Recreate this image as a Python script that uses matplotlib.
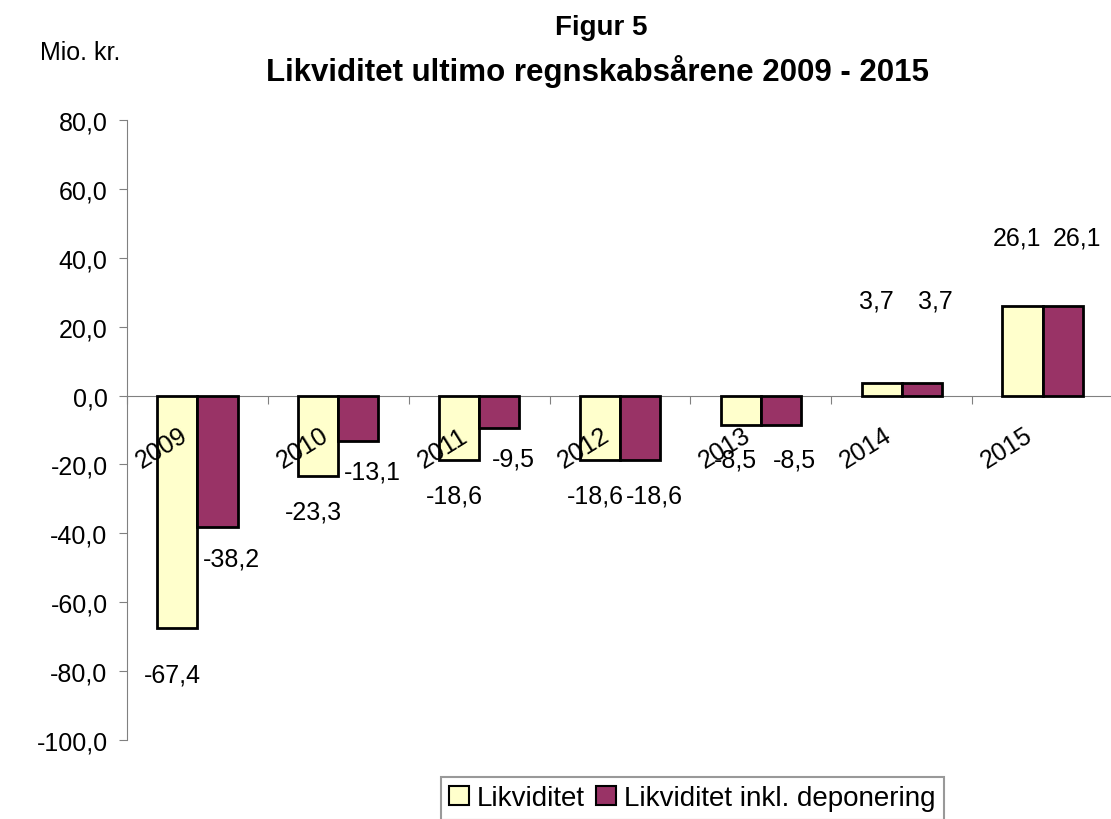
import numpy as np
import matplotlib
matplotlib.use("Agg")
import matplotlib.pyplot as plt
from matplotlib.ticker import FuncFormatter, FixedLocator

plt.rcParams['font.family'] = ['Liberation Sans', 'DejaVu Sans']

years = ["2009", "2010", "2011", "2012", "2013", "2014", "2015"]
likviditet = [-67.4, -23.3, -18.6, -18.6, -8.5, 3.7, 26.1]
likviditet_dep = [-38.2, -13.1, -9.5, -18.6, -8.5, 3.7, 26.1]
series_names = ["Likviditet", "Likviditet inkl. deponering"]

# label offsets in pixels from the bar end (Excel places them unevenly)
label_dy_1 = [-47, -36, -36, -36, -35, 82, 68]
label_dy_2 = [-31, -31, -30, -36, -35, 82, 68]


def fmt(v):
    return f"{v:.1f}".replace(".", ",")


def main() -> None:
    W, H = 1111, 820
    fig = plt.figure(figsize=(W / 100, H / 100), dpi=100)
    # plot area extends a little past the right edge, like the original
    ax = fig.add_axes([127 / W, 1 - 741 / H, 986 / W, 620 / H])

    x = np.arange(len(years))
    bw = 0.285
    colors = ["#FFFFCC", "#993366"]
    b1 = ax.bar(x - bw / 2, likviditet, bw, color=colors[0], edgecolor="black", linewidth=2, label=series_names[0])
    b2 = ax.bar(x + bw / 2, likviditet_dep, bw, color=colors[1], edgecolor="black", linewidth=2, label=series_names[1])

    ax.set_xlim(-0.5, len(years) - 0.5)
    ax.set_ylim(-100, 80)
    ax.set_yticks(np.arange(-100, 81, 20))
    ax.yaxis.set_major_formatter(FuncFormatter(lambda v, p: fmt(v)))

    for s in ["top", "right"]:
        ax.spines[s].set_visible(False)
    ax.spines["bottom"].set_position(("data", 0))
    ax.spines["bottom"].set_color("#808080")
    ax.spines["left"].set_color("#808080")
    ax.spines["bottom"].set_zorder(0)

    ax.xaxis.set_major_locator(FixedLocator(np.arange(-0.5, len(years), 1.0)))
    ax.set_xticklabels([])
    ax.tick_params(axis="x", direction="out", length=6, color="#808080")
    ax.tick_params(axis="y", direction="out", length=6, color="#808080", labelsize=18, pad=8)

    # category labels next to the zero line
    for i, yr in enumerate(years):
        ax.annotate(yr, (x[i], 0), xytext=(-36, -52), textcoords="offset pixels",
                    ha="center", va="center", rotation=32, fontsize=18)

    # value labels
    for bars, vals, dx, dys in [(b1, likviditet, -5, label_dy_1), (b2, likviditet_dep, 14, label_dy_2)]:
        for b, v, dy in zip(bars, vals, dys):
            cx = b.get_x() + b.get_width() / 2
            ax.annotate(fmt(v), (cx, v), xytext=(dx, dy), textcoords="offset pixels",
                        ha="center", va="center", fontsize=18)

    fig.text(601 / W, 1 - 28 / H, "Figur 5", ha="center", va="center", fontsize=20, fontweight="bold")
    fig.text(598 / W, 1 - 71 / H, "Likviditet ultimo regnskabsårene 2009 - 2015",
             ha="center", va="center", fontsize=22.5, fontweight="bold")
    fig.text(40 / W, 1 - 53 / H, "Mio. kr.", ha="left", va="center", fontsize=18)

    leg = fig.legend(loc="upper left", bbox_to_anchor=(441 / W, 1 - 778 / H), ncol=2,
                     fontsize=20, frameon=True, fancybox=False, borderpad=0.3,
                     handlelength=0.7, handleheight=0.7, handletextpad=0.3,
                     columnspacing=0.4, borderaxespad=0)
    leg.get_frame().set_edgecolor("#808080")
    leg.get_frame().set_linewidth(1.5)
    for h in leg.legend_handles:
        h.set_linewidth(1.5)

    fig.savefig("out.png", dpi=100)


if __name__ == '__main__':
    main()
